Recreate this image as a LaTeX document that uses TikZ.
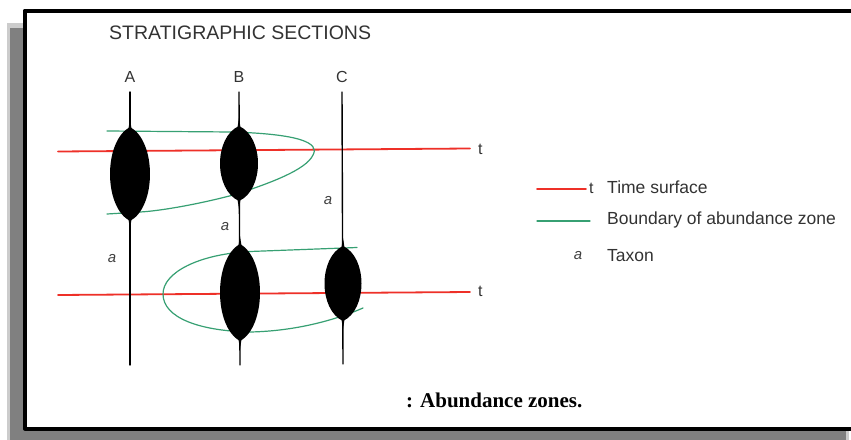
\documentclass[tikz,border=0pt]{standalone}
\usepackage{fontspec}
\setmainfont{Liberation Serif}
\setsansfont{Liberation Sans}
\begin{document}
\begin{tikzpicture}[x=1pt, y=-1pt, line join=round, line cap=round,
    timeline/.style={cTime, line width=1.8pt},
    zoneline/.style={cZone, line width=1.2pt},
    section/.style={black, line width=1.4pt},
    lbl/.style={font=\sffamily\fontsize{16}{16}\selectfont, text=black!80, inner sep=0pt},
    taxon/.style={font=\sffamily\itshape\fontsize{15}{15}\selectfont, text=black!75, inner sep=0pt},
    legtext/.style={font=\sffamily\fontsize{17.5}{18}\selectfont, text=black!80, inner sep=0pt, anchor=west}]
  \definecolor{cTime}{RGB}{238, 48, 40}
  \definecolor{cZone}{RGB}{55, 160, 115}
  \definecolor{cShadow}{RGB}{128, 128, 128}

  \useasboundingbox (0,0) rectangle (851,439);
  \clip (0,0) rectangle (851,439);

  \fill[gray!40] (7,23) rectangle (849,445);
  \fill[cShadow] (10,28) rectangle (846,445);
  \fill[white] (24.7,10.5) rectangle (860,428.5);
  \draw[line width=4pt, line cap=butt] (860,10.5) -- (24.7,10.5) -- (24.7,428.5) -- (860,428.5);

  \node[font=\sffamily\fontsize{19.5}{20}\selectfont, text=black!80, anchor=west, inner sep=0pt] (title) at (109,33) {STRATIGRAPHIC SECTIONS};

  \node[lbl] (labA) at (130,77) {A};
  \node[lbl] (labB) at (239,77) {B};
  \node[lbl] (labC) at (342,77) {C};

  \coordinate (t1L) at (58,151.5);
  \coordinate (t1R) at (470,148.5);
  \coordinate (t2L) at (58,295);
  \coordinate (t2R) at (470,292);
  \draw[timeline] (t1L) -- (t1R);
  \draw[timeline] (t2L) -- (t2R);
  \node[lbl, anchor=west] (t1) at (478,149) {t};
  \node[lbl, anchor=west] (t2) at (478,291) {t};

  \draw[zoneline] (107,131) -- (232,132)
    .. controls (300,134) and (320,143) .. (313,155)
    .. controls (306,170) and (270,183) .. (237,194)
    .. controls (200,204) and (160,211) .. (140,212) -- (107,214);
  \draw[zoneline] (357,247.5) -- (250,251.5)
    .. controls (200,254) and (163,272) .. (163,294)
    .. controls (163,318) and (200,331) .. (250,332)
    .. controls (300,331) and (340,318) .. (363,308);

  \coordinate (topA) at (130,92);
  \coordinate (botA) at (130,365);
  \coordinate (topB) at (239,92);
  \coordinate (botB) at (240,365);
  \coordinate (topC) at (342,92);
  \coordinate (botC) at (343,364);
  \draw[section] (topA) -- (botA);
  \draw[section] (topB) -- (botB);
  \draw[section] (topC) -- (botC);

  \foreach \x/\t/\b/\w in {130/127/221/20, 239/126/201/19, 240/244/341/20, 343/246/321/18.5} {
    \fill[black] (\x,\t)
      .. controls ({\x-1.333*\w},{\t+0.15*(\b-\t)}) and ({\x-1.333*\w},{\b-0.15*(\b-\t)}) .. (\x,\b)
      .. controls ({\x+1.333*\w},{\b-0.15*(\b-\t)}) and ({\x+1.333*\w},{\t+0.15*(\b-\t)}) .. cycle;
    \fill[black] (\x-2.2,\t+6) -- (\x,\t-8) -- (\x+2.2,\t+6) -- cycle;
    \fill[black] (\x-2.2,\b-6) -- (\x,\b+8) -- (\x+2.2,\b-6) -- cycle;
  }

  \node[taxon] (aA) at (112,259) {a};
  \node[taxon] (aB) at (225,227) {a};
  \node[taxon] (aC) at (328,201) {a};

  \coordinate (legTL) at (537,189);
  \coordinate (legTR) at (586,189);
  \coordinate (legZL) at (537,221);
  \coordinate (legZR) at (590,221);
  \draw[timeline] (legTL) -- (legTR);
  \node[lbl, anchor=west] (legt) at (589,188) {t};
  \draw[zoneline] (legZL) -- (legZR);
  \node[taxon] (lega) at (578,256) {a};
  \node[legtext] (legTime) at (607,187) {Time surface};
  \node[legtext] (legZone) at (607,220) {Boundary of abundance zone};
  \node[legtext] (legTaxon) at (607,256) {Taxon};

  \node[font=\bfseries\fontsize{21}{21}\selectfont, anchor=west, inner sep=0pt] (caption) at (406,400) {: Abundance zones.};
\end{tikzpicture}
\end{document}
